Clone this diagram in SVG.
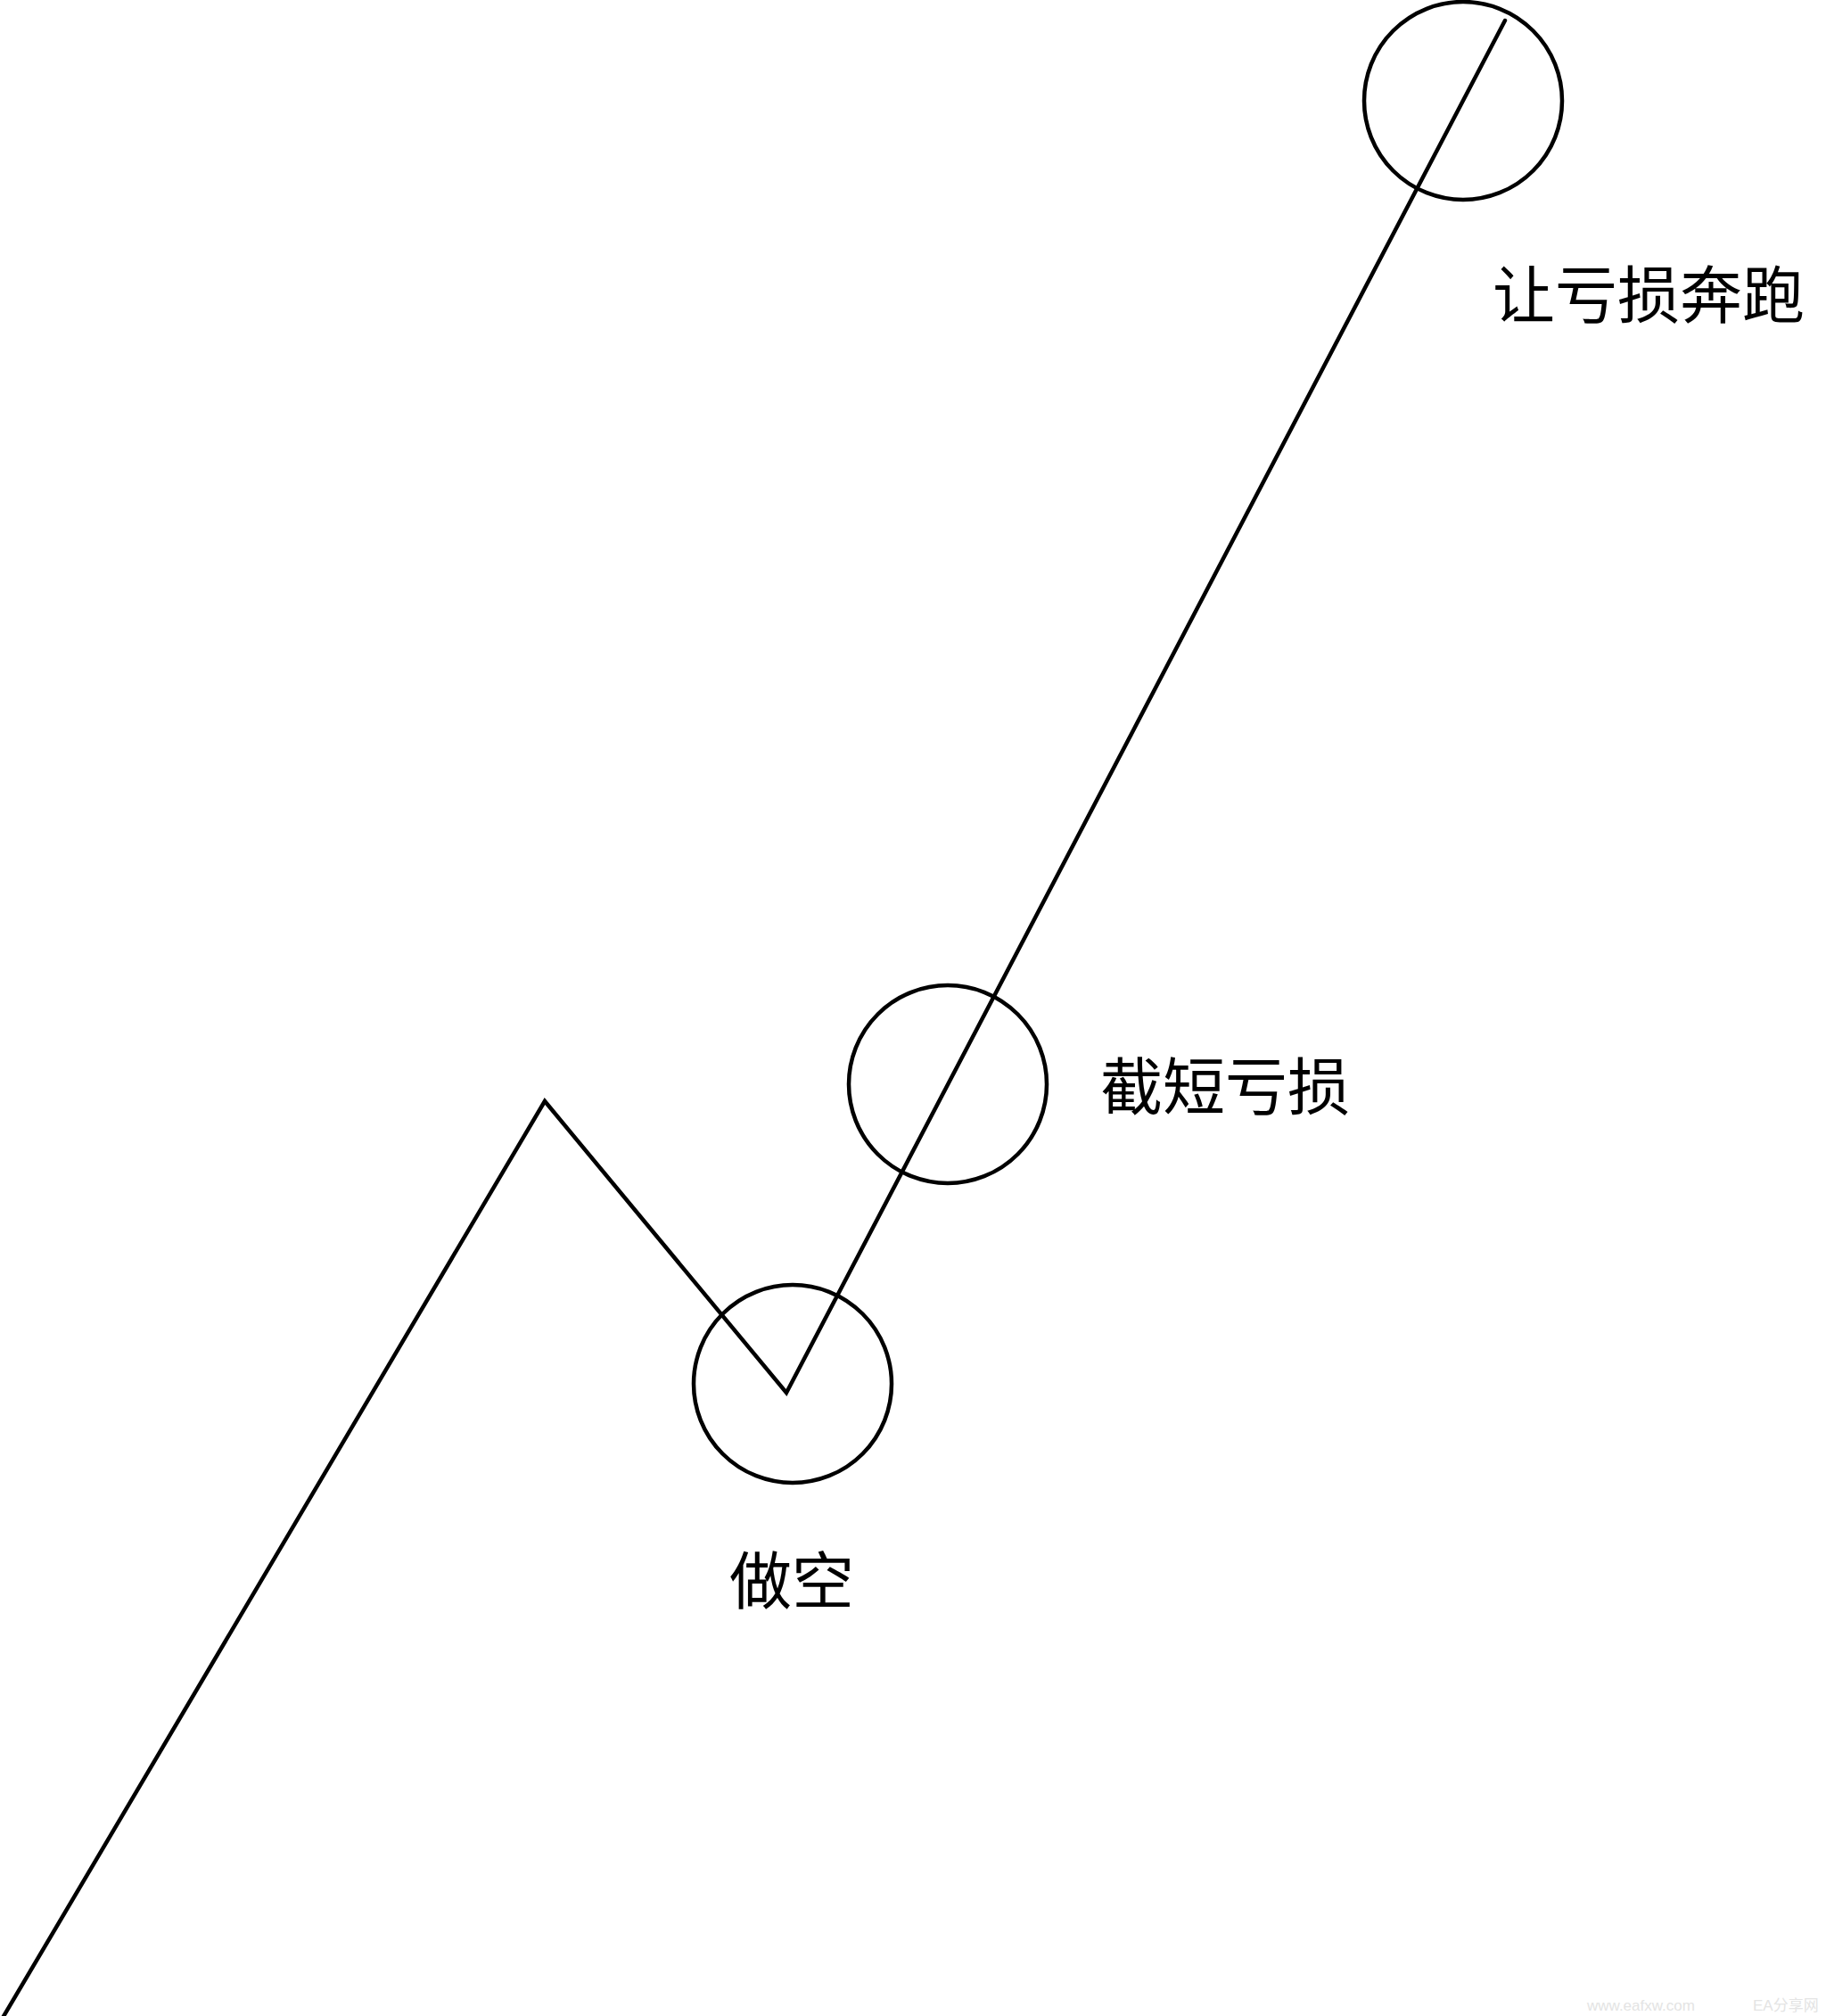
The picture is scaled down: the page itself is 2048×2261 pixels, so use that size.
<svg xmlns="http://www.w3.org/2000/svg" width="2048" height="2261" viewBox="0 0 2048 2261">
<style>
.ln{fill:none;stroke:#000;stroke-width:4.5;stroke-linejoin:miter;stroke-linecap:round}
.lbl{font-family:"Noto Sans CJK SC","Noto Sans",sans-serif;font-size:70px;fill:#000}
.wm{font-family:"Liberation Sans","Noto Sans CJK SC",sans-serif;font-size:17px;fill:#e4e4e4}
</style>
<rect width="2048" height="2261" fill="#fff"/>
<g id="connectors">
<polyline class="ln" points="3,2263 611,1235 882,1562 1688,23"/>
</g>
<g id="node-top">
<circle class="ln" cx="1641" cy="113" r="111"/>
<text class="lbl" x="1674" y="357">让亏损奔跑</text>
</g>
<g id="node-mid">
<circle class="ln" cx="1063" cy="1216" r="111"/>
<text class="lbl" x="1234" y="1245">截短亏损</text>
</g>
<g id="node-low">
<circle class="ln" cx="889" cy="1552" r="111"/>
<text class="lbl" x="818" y="1799">做空</text>
</g>
<g id="watermark">
<text class="wm" x="1780" y="2255">www.eafxw.com</text>
<text class="wm" x="1966" y="2255">EA分享网</text>
</g>
</svg>
